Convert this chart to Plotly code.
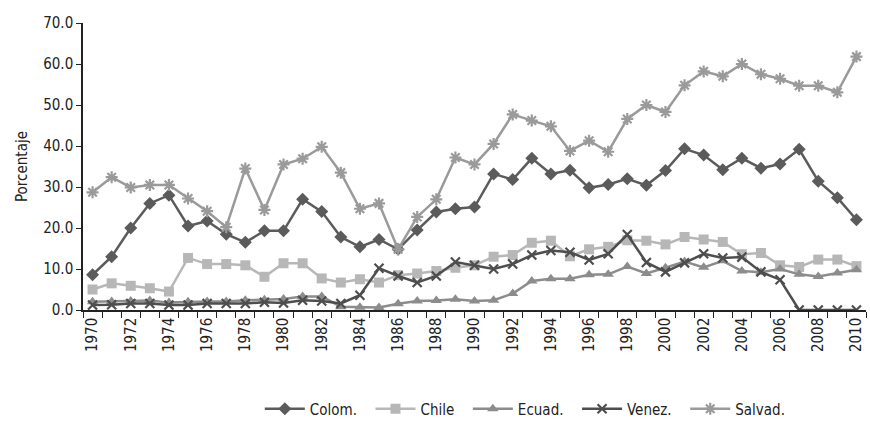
import plotly.graph_objects as go

years = list(range(1970, 2011))

colom = [8.6, 13.0, 20.0, 26.0, 28.0, 20.5, 21.7, 18.5, 16.5, 19.3, 19.3, 27.0, 24.0,
         17.8, 15.4, 17.2, 14.8, 19.5, 23.9, 24.7, 25.1, 33.2, 31.8, 37.0, 33.2, 34.1,
         29.8, 30.6, 32.0, 30.4, 34.0, 39.3, 37.8, 34.2, 37.0, 34.6, 35.6, 39.2, 31.4, 27.4, 22.0]

chile = [5.0, 6.5, 5.9, 5.3, 4.5, 12.7, 11.2, 11.2, 10.9, 8.1, 11.4, 11.4, 7.7,
         6.7, 7.5, 6.7, 8.5, 8.9, 9.5, 10.3, 10.9, 13.0, 13.4, 16.4, 16.9, 13.1,
         14.8, 15.4, 17.0, 16.9, 16.0, 17.8, 17.2, 16.6, 13.6, 13.9, 10.9, 10.5, 12.3, 12.3, 10.7]

ecuad = [2.0, 2.1, 2.2, 2.3, 1.8, 2.0, 2.1, 2.1, 2.4, 2.5, 2.7, 3.3, 3.3,
         0.8, 0.7, 0.6, 1.5, 2.2, 2.3, 2.6, 2.2, 2.4, 4.0, 7.1, 7.6, 7.6,
         8.6, 8.7, 10.6, 8.9, 10.3, 11.8, 10.4, 12.0, 9.5, 9.2, 10.0, 8.7, 8.2, 9.0, 9.8]

venez = [1.2, 1.3, 1.6, 1.6, 1.2, 1.2, 1.6, 1.6, 1.6, 1.9, 1.7, 2.4, 2.2,
         1.6, 3.6, 10.2, 8.3, 6.7, 8.3, 11.7, 10.9, 10.0, 11.2, 13.4, 14.5, 14.1,
         12.2, 13.7, 18.4, 11.6, 9.3, 11.5, 13.7, 12.7, 12.9, 9.3, 7.4, 0.0, 0.0, 0.0, 0.0]

salvad = [28.7, 32.4, 29.9, 30.5, 30.5, 27.2, 24.1, 20.2, 34.5, 24.4, 35.5, 36.9, 39.8,
          33.5, 24.7, 26.0, 14.8, 22.7, 27.0, 37.2, 35.5, 40.5, 47.7, 46.2, 44.8, 38.8,
          41.3, 38.6, 46.6, 50.0, 48.3, 54.8, 58.2, 57.0, 60.0, 57.5, 56.4, 54.7, 54.7, 53.1, 61.8]

series = [
    ("Colom.", colom, "#5b5b5b", "diamond", 10),
    ("Chile", chile, "#b7b7b7", "square", 10),
    ("Ecuad.", ecuad, "#8c8c8c", "triangle-up", 10),
    ("Venez.", venez, "#4e4e4e", "x-thin-open", 9),
    ("Salvad.", salvad, "#9a9a9a", "asterisk-open", 10),
]

FONT = "DejaVu Sans Condensed, DejaVu Sans, sans-serif"


def f(size):
    return dict(family=FONT, size=size, color="#222222")


fig = go.Figure()
for name, vals, color, sym, size in series:
    marker = dict(symbol=sym, size=size, color=color)
    if sym.endswith("open"):
        marker["line"] = dict(width=2.2, color=color)
    fig.add_trace(go.Scatter(
        x=years, y=vals, name=name + "  ", mode="lines+markers",
        line=dict(color=color, width=2.5), marker=marker,
    ))

fig.update_layout(
    width=870, height=424,
    margin=dict(l=83, r=4, t=23, b=114, autoexpand=False),
    paper_bgcolor="white", plot_bgcolor="white",
    font=f(15),
    showlegend=True,
    legend=dict(orientation="h", x=0.57, xanchor="center", y=-0.345, yanchor="middle",
                font=f(15), itemwidth=40, tracegroupgap=0),
)

fig.update_xaxes(
    range=[1969.5, 2010.5],
    tickvals=list(range(1970, 2011, 2)),
    ticktext=[str(y) for y in range(1970, 2011, 2)],
    tickangle=-90, ticks="", showgrid=False, zeroline=False,
    showline=True, linecolor="#222222", linewidth=1.5,
    tickfont=f(15),
    minor=dict(tickvals=[y + 0.5 for y in range(1969, 2011)], ticks="outside",
               ticklen=6, tickcolor="#222222", showgrid=False),
)
fig.update_yaxes(
    range=[0, 70], dtick=10, tickformat=".1f",
    ticks="outside", ticklen=5, tickcolor="#222222",
    showgrid=False, zeroline=False,
    showline=True, linecolor="#222222", linewidth=1.5,
    title=dict(text="Porcentaje", font=f(15), standoff=12),
    tickfont=f(15),
)

fig.write_html("out.html", config={"displayModeBar": False},
               post_script="document.body.style.margin='0';")
